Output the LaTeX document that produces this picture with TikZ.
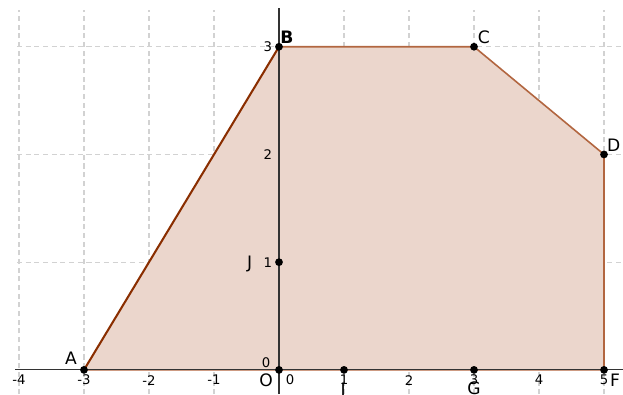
\documentclass[tikz,border=0pt]{standalone}
\usepackage{fontspec}
\setmainfont{DejaVu Sans}
\usepackage{xcolor}
\usetikzlibrary{positioning}
\definecolor{polyfill}{RGB}{235,214,204}
\definecolor{polyedge}{RGB}{153,51,0}
\definecolor{gridgray}{RGB}{210,210,210}
\tikzset{
  pt/.style={circle,fill=black,inner sep=0pt,minimum size=3.4pt},
  ptlabel/.style={font=\fontsize{7.5}{8}\selectfont},
  tick/.style={font=\fontsize{5.8}{6}\selectfont,inner sep=0pt},
  gridline/.style={gridgray,dash pattern=on 2.2pt off 1.6pt,line width=0.5pt}
}
\begin{document}
\begin{tikzpicture}[x=1cm,y=1.657cm]
\useasboundingbox (-4.292,-0.226) rectangle (5.292,3.434);
% grid
\foreach \x in {-4,...,5}{\draw[gridline] (\x,-0.226)--(\x,3.34);}
\foreach \y in {1,2,3}{\draw[gridline] (-4.03,\y)--(5.292,\y);}
% points
\coordinate (A) at (-3,0);
\coordinate (B) at (0,3);
\coordinate (C) at (3,3);
\coordinate (D) at (5,2);
\coordinate (F) at (5,0);
\coordinate (G) at (3,0);
\coordinate (I) at (1,0);
\coordinate (J) at (0,1);
\coordinate (O) at (0,0);
% polygon
\fill[polyfill] (A)--(B)--(C)--(D)--(F)--cycle;
\draw[polyedge!75,line width=0.7pt] (B)--(C)--(D)--(F)--(A);
\draw[polyedge!90!black,line width=0.9pt] (A)--(B);
% axes
\draw[black!80,line width=0.5pt] (-4.06,0)--(5.292,0);
\draw[black!80,line width=0.5pt] (0,-0.226)--(0,3.36);
% ticks
\foreach \x in {-4,-3,-2,-1}{\node[tick] (tx\x) at (\x,-0.095) {-\the\numexpr-\x\relax};}
\foreach \x in {1,...,5}{\node[tick] (tx\x) at (\x,-0.095) {\x};}
\node[tick] (tx0) at (0.17,-0.095) {0};
\foreach \y in {1,2,3}{\node[tick] (ty\y) at (-0.17,\y) {\y};}
\node[tick] (ty0) at (-0.2,0.07) {0};
% dots and names
\foreach \p in {A,B,C,D,F,G,I,J,O}{\node[pt] (d\p) at (\p) {};}
\node[ptlabel] (lA) at (-3.2,0.11) {A};
\node[ptlabel,font=\bfseries\fontsize{7.5}{8}\selectfont] (lB) at (0.12,3.09) {B};
\node[ptlabel] (lC) at (3.15,3.09) {C};
\node[ptlabel] (lD) at (5.15,2.09) {D};
\node[ptlabel] (lF) at (5.17,-0.1) {F};
\node[ptlabel] (lG) at (3.0,-0.17) {G};
\node[ptlabel] (lI) at (0.985,-0.18) {I};
\node[ptlabel] (lJ) at (-0.45,0.98) {J};
\node[ptlabel] (lO) at (-0.2,-0.1) {O};
\end{tikzpicture}
\end{document}
